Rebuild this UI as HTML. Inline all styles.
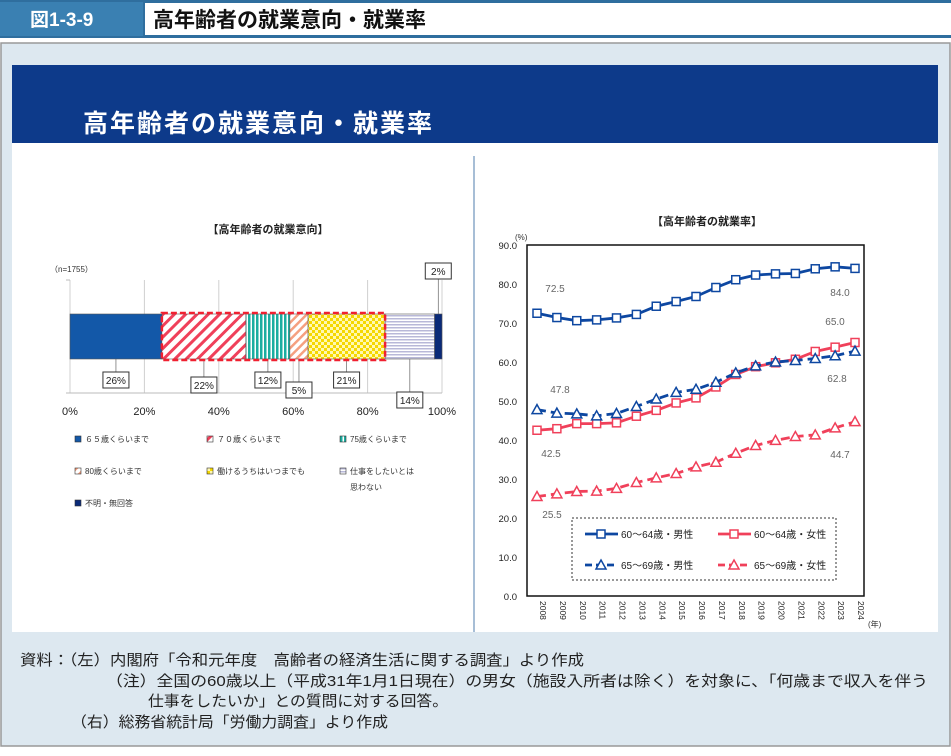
<!DOCTYPE html>
<html><head><meta charset="utf-8"><style>
body{margin:0;width:951px;height:751px;overflow:hidden;background:#fff;font-family:"Liberation Sans","Noto Sans CJK JP",sans-serif;}
svg text{font-family:"Liberation Sans","Noto Sans CJK JP",sans-serif;}
</style></head><body>
<svg id="page" width="951" height="751" xmlns="http://www.w3.org/2000/svg">
<defs>
<pattern id="hatchR" width="8" height="8" patternUnits="userSpaceOnUse" patternTransform="rotate(45)"><rect width="8" height="8" fill="#fff"/><rect width="3" height="8" fill="#f0405a"/></pattern>
<pattern id="vstripe" width="4" height="4" patternUnits="userSpaceOnUse"><rect width="4" height="4" fill="#fff"/><rect width="2.5" height="4" fill="#1aaea0"/></pattern>
<pattern id="hatchO" width="6" height="6" patternUnits="userSpaceOnUse" patternTransform="rotate(45)"><rect width="6" height="6" fill="#fff"/><rect width="2.5" height="6" fill="#f5a080"/></pattern>
<pattern id="check" width="6" height="6" patternUnits="userSpaceOnUse"><rect width="6" height="6" fill="#fff8b0"/><rect width="3" height="3" fill="#f5d800"/><rect x="3" y="3" width="3" height="3" fill="#f5d800"/></pattern>
<pattern id="hline" width="4" height="3" patternUnits="userSpaceOnUse"><rect width="4" height="3" fill="#fff"/><rect width="4" height="1.5" fill="#b8b8d8"/></pattern>
</defs>
<rect x="0" y="0" width="951" height="38" fill="#2f6e9e"/>
<rect x="0" y="2" width="143" height="34" fill="#3a80b2"/>
<text x="30" y="26" font-size="19" font-weight="bold" fill="#fff">図1-3-9</text>
<rect x="145" y="3" width="806" height="32" fill="#fff"/>
<text x="153" y="27" font-size="21" font-weight="bold" fill="#111">高年齢者の就業意向・就業率</text>
<rect x="1" y="43" width="949" height="703" fill="#dde8f0" stroke="#999" stroke-width="1.5"/>
<rect x="12" y="65" width="926" height="567" fill="#fff"/>
<rect x="12" y="65" width="926" height="78" fill="#0d3a8a"/>
<text x="83" y="132" font-size="25" font-weight="bold" fill="#fff" letter-spacing="2">高年齢者の就業意向・就業率</text>
<line x1="474" y1="156" x2="474" y2="632" stroke="#8aa8c8" stroke-width="1.5"/>
<g id="left"></g>
<g id="right"></g>
<g font-size="15" fill="#222">
<text x="20" y="665" textLength="564" lengthAdjust="spacingAndGlyphs">資料：（左）内閣府「令和元年度　高齢者の経済生活に関する調査」より作成</text>
<text x="106" y="686" textLength="822" lengthAdjust="spacingAndGlyphs">（注）全国の60歳以上（平成31年1月1日現在）の男女（施設入所者は除く）を対象に、「何歳まで収入を伴う</text>
<text x="148" y="706" textLength="300" lengthAdjust="spacingAndGlyphs">仕事をしたいか」との質問に対する回答。</text>
<text x="71" y="727" textLength="317" lengthAdjust="spacingAndGlyphs">（右）総務省統計局「労働力調査」より作成</text>
</g>
</svg>
<script>
const NS="http://www.w3.org/2000/svg";
function mk(p,tag,a,txt){const e=document.createElementNS(NS,tag);for(const k in a)e.setAttribute(k,a[k]);if(txt!==undefined)e.textContent=txt;p.appendChild(e);return e;}
// ---- Left chart data ----
const intentCats=["６５歳くらいまで","７０歳くらいまで","75歳くらいまで","80歳くらいまで","働けるうちはいつまでも","仕事をしたいとは思わない","不明・無回答"];
const intentVals=[24.7,22.6,11.8,4.9,20.7,13.3,2.0];
const intentLabels=["26%","22%","12%","5%","21%","14%","2%"];
const xTicksL=[0,20,40,60,80,100];
const L=document.getElementById('left');
const lx=v=>70+v*3.72;
mk(L,'text',{x:268,y:233,'font-size':11,'font-weight':'bold','text-anchor':'middle',fill:'#222'},'【高年齢者の就業意向】');
mk(L,'text',{x:50,y:272,'font-size':8,fill:'#333'},'（n=1755）');
xTicksL.forEach(t=>{
 const l=mk(L,'line',{x1:lx(t),y1:280,x2:lx(t),y2:393,stroke:'#d0d0d0'});
 
 
 const tx=mk(L,'text',{x:lx(t),y:415,'font-size':11,'text-anchor':'middle',fill:'#222'},t+'%');
 
 
});
mk(L,'line',{x1:66,y1:280,x2:70,y2:280,stroke:'#bbb'});mk(L,'line',{x1:66,y1:393,x2:442,y2:393,stroke:'#bbb'});
const fills=["#1358a8","url(#hatchR)","url(#vstripe)","url(#hatchO)","url(#check)","url(#hline)","#0a2a78"];
let cum=0;const labelY=[380,385,380,390,380,400,271];
intentVals.forEach((v,i)=>{
 const x0=lx(cum),x1=lx(cum+v);cum+=v;
 const r=mk(L,'rect',{x:x0,y:314,width:x1-x0,height:45,fill:fills[i],stroke:'#555','stroke-width':0.6});
 
 
 const cx=(x0+x1)/2, ly=labelY[i];
 mk(L,'line',{x1:cx,y1:i==6?314:359,x2:cx,y2:i==6?ly+6:ly-8,stroke:'#666','stroke-width':0.7});
 mk(L,'rect',{x:cx-13,y:ly-8,width:26,height:16,fill:'#fff',stroke:'#333','stroke-width':1});
 const t=mk(L,'text',{x:cx,y:ly+4,'font-size':10,'text-anchor':'middle',fill:'#222'},intentLabels[i]);
 
 
});
{const a=lx(intentVals[0]),b=lx(intentVals.slice(0,5).reduce((s,v)=>s+v,0));
 mk(L,'rect',{x:a,y:313,width:b-a,height:47,fill:'none',stroke:'#f02030','stroke-width':2.5,'stroke-dasharray':'6,3'});}
const legPos=[[75,442],[207,442],[340,442],[75,474],[207,474],[340,474],[75,506]];
intentCats.forEach((c,i)=>{
 const [x,y]=legPos[i];
 const g=mk(L,'g',{});
 
 
 mk(g,'rect',{x:x,y:y-6,width:6,height:6,fill:fills[i],stroke:'#333','stroke-width':0.6});
 if(i==5){mk(g,'text',{x:x+10,y:y,'font-size':8,fill:'#333'},'仕事をしたいとは');mk(g,'text',{x:x+10,y:y+16,'font-size':8,fill:'#333'},'思わない');}
 else mk(g,'text',{x:x+10,y:y,'font-size':8,fill:'#333'},c);
});
// ---- Right chart data ----
const years=[2008,2009,2010,2011,2012,2013,2014,2015,2016,2017,2018,2019,2020,2021,2022,2023,2024];
const male6064=[72.5,71.4,70.6,70.8,71.3,72.2,74.3,75.5,76.8,79.1,81.1,82.3,82.6,82.7,83.9,84.4,84.0];
const female6064=[42.5,42.9,44.2,44.2,44.4,46.1,47.6,49.5,50.8,53.6,56.8,58.8,59.8,60.7,62.7,63.8,65.0];
const male6569=[47.8,46.9,46.7,46.2,46.8,48.6,50.5,52.2,53.0,54.8,57.2,59.0,60.0,60.4,60.9,61.6,62.8];
const female6569=[25.5,26.2,26.8,26.9,27.6,29.1,30.3,31.4,33.1,34.3,36.6,38.6,39.9,40.9,41.3,43.1,44.7];
const yTicks=[0,10,20,30,40,50,60,70,80,90];
const R=document.getElementById('right');
const px=i=>537+i*(855-537)/(years.length-1);
const py=v=>596-v*(351/90);
mk(R,'text',{x:707,y:225,'font-size':11,'font-weight':'bold','text-anchor':'middle',fill:'#222'},'【高年齢者の就業率】');
mk(R,'text',{x:515,y:240,'font-size':8,fill:'#333'},'(%)');
mk(R,'rect',{x:527,y:245,width:337,height:351,fill:'none',stroke:'#111','stroke-width':1.5});
yTicks.forEach(t=>{
 const tx=mk(R,'text',{x:517,y:py(t)+4,'font-size':9.5,'text-anchor':'end',fill:'#222'},t.toFixed(1));
 
 
});
years.forEach((y,i)=>{
 const tx=mk(R,'text',{x:0,y:0,'font-size':8.5,fill:'#222',transform:`translate(${px(i)+3},601) rotate(90)`},String(y));
 
 
});
mk(R,'text',{x:868,y:627,'font-size':8,fill:'#333'},'(年)');
const series=[
 {d:male6064,c:'#0d47a1',dash:'',m:'sq',n:'line-male-60-64'},
 {d:female6064,c:'#f0405a',dash:'',m:'sq',n:'line-female-60-64'},
 {d:male6569,c:'#0d47a1',dash:'9,5',m:'tri',n:'line-male-65-69'},
 {d:female6569,c:'#f0405a',dash:'9,5',m:'tri',n:'line-female-65-69'}];
function marker(g,x,y,s,c){
 if(s==='sq')mk(g,'rect',{x:x-4,y:y-4,width:8,height:8,fill:'#fff',stroke:c,'stroke-width':1.5});
 else mk(g,'path',{d:`M${x},${y-5}L${x+5},${y+4}L${x-5},${y+4}Z`,fill:'#fff',stroke:c,'stroke-width':1.5});
}
series.forEach(s=>{
 const g=mk(R,'g',{});
 
 
 mk(g,'path',{d:s.d.map((v,i)=>(i?'L':'M')+px(i)+','+py(v)).join(''),fill:'none',stroke:s.c,'stroke-width':2.8,'stroke-dasharray':s.dash});
 s.d.forEach((v,i)=>marker(g,px(i),py(v),s.m,s.c));
});
const lastI=years.length-1;
const ann=[[male6064[0],0,555,292],[male6064[lastI],lastI,840,296],[female6064[lastI],lastI,835,325],[male6569[lastI],lastI,837,382],[male6569[0],0,560,393],[female6064[0],0,551,457],[female6569[lastI],lastI,840,458],[female6569[0],0,552,518]];
ann.forEach(a=>{
 const t=mk(R,'text',{x:a[2],y:a[3],'font-size':10,'text-anchor':'middle',fill:'#666'},a[0].toFixed(1));
 
 
});
const lg=mk(R,'g',{});


mk(lg,'rect',{x:572,y:518,width:264,height:62,fill:'#fff',stroke:'#333','stroke-width':1,'stroke-dasharray':'2,2'});
const legNames=['60～64歳・男性','60～64歳・女性','65～69歳・男性','65～69歳・女性'];
legNames.forEach((n,i)=>{
 const x=i%2?718:585,y=i<2?534:565,s=series[i];
 mk(lg,'line',{x1:x,y1:y,x2:x+33,y2:y,stroke:s.c,'stroke-width':2.8,'stroke-dasharray':s.dash?'7,4':''});
 marker(lg,x+16,y,s.m,s.c);
 mk(lg,'text',{x:x+36,y:y+4,'font-size':10,fill:'#222'},n);
});
</script>
</body></html>
